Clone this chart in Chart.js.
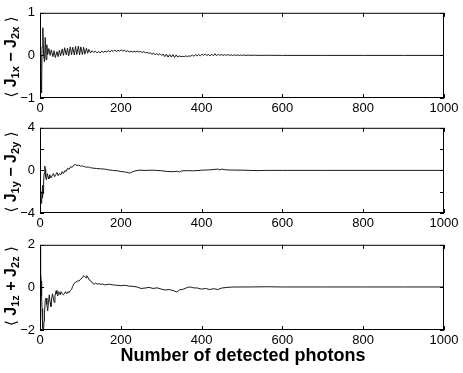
<!DOCTYPE html>
<html><head><meta charset="utf-8">
<script src="https://cdn.jsdelivr.net/npm/chart.js@4"></script>
<style>
body{margin:0;background:#fff;width:463px;height:373px;position:relative;overflow:hidden;font-family:'Liberation Sans',Arial,Helvetica,sans-serif;color:#000;}
canvas{position:absolute;left:0;}
.ylab{position:absolute;white-space:nowrap;font-weight:bold;font-size:16px;line-height:16px;transform:translate(-50%,-50%) rotate(-90deg);}
.ylab sub{font-size:11px;vertical-align:-3px;line-height:11px;}
.ylab .br{font-weight:normal;font-family:'DejaVu Sans',sans-serif;font-size:15px;}
.xt{position:absolute;left:243px;top:355px;transform:translate(-50%,-50%);font-weight:bold;font-size:18px;white-space:nowrap;}
</style></head>
<body>
<canvas id="c1" width="463" height="115" style="top:0px"></canvas>
<canvas id="c2" width="463" height="117" style="top:115px"></canvas>
<canvas id="c3" width="463" height="118" style="top:232px"></canvas>
<div class="ylab" style="left:12px;top:57px"><span class="br">⟨</span> J<sub>1x</sub> − J<sub>2x</sub> <span class="br">⟩</span></div>
<div class="ylab" style="left:12px;top:172px"><span class="br">⟨</span> J<sub>1y</sub> − J<sub>2y</sub> <span class="br">⟩</span></div>
<div class="ylab" style="left:12px;top:286px"><span class="br">⟨</span> J<sub>1z</sub> + J<sub>2z</sub> <span class="br">⟩</span></div>
<div class="xt">Number of detected photons</div>
<script>
// ---- data ----
const xTickValues = [0, 200, 400, 600, 800, 1000];
const yTicksTop = [-1, 0, 1];
const yLabelsTop = [-1, 0, 1];
const yTicksMid = [-4, -2, 0, 2, 4];
const yLabelsMid = [-4, 0, 4];
const yTicksBot = [-2, 0, 2];
const yLabelsBot = [-2, 0, 2];

const xTop = [0,2,4,5,7,9,11,13,15,17,19,22,25,28,32,35,38,42,45,48,51,55,58,61,65,68,71,75,78,81,85,88,91,95,98,101,105,108,111,115,118,121,125,
129,133,137,141,145,149,153,157,161,165,169,173,177,181,185,189,193,197,201,205,209,213,217,221,225,229,233,237,241,245,249,
253,257,261,265,269,273,277,281,285,289,293,297,301,305,309,313,317,321,325,329,333,337,341,345,349,353,357,361,365,369,373,377,381,385,389,393,397,
401,405,409,413,417,421,425,429,433,437,441,445,449,453,457,461,465,469,473,477,481,485,489,493,497,501,505,510,515,520,530,540,560,600,700,800,900,1000];
const yTop = [0,-0.3,-0.88,0.2,0.65,0.0,-0.15,0.42,-0.1,0.25,0.02,0.16,0.0,0.13,-0.03,0.11,-0.05,0.09,-0.03,0.12,-0.01,0.15,0.0,0.18,0.01,0.17,-0.01,0.2,0.01,0.19,0.01,0.21,0.02,0.22,0.01,0.2,0.02,0.19,0.03,0.17,0.05,0.14,0.06,
0.11,0.07,0.1,0.06,0.09,0.06,0.1,0.07,0.1,0.08,0.11,0.08,0.12,0.09,0.13,0.09,0.12,0.1,0.13,0.1,0.12,0.09,0.11,0.08,0.1,0.08,0.1,0.08,0.1,0.08,0.09,
0.07,0.09,0.06,0.07,0.05,0.06,0.03,0.05,0.02,0.04,0.01,0.04,0.0,0.03,-0.03,0.03,-0.04,0.02,-0.04,0.02,-0.05,0.01,-0.04,-0.01,-0.03,-0.02,-0.03,-0.01,-0.03,-0.01,-0.02,0.01,-0.02,0.02,-0.01,0.02,-0.01,
0.03,0.0,0.03,0.0,0.02,-0.01,0.03,-0.01,0.04,-0.01,0.03,0.0,0.02,0.0,0.02,0.0,0.02,0.0,0.015,-0.005,0.015,0.0,0.01,0.0,0.01,0.0,0.01,0.0,0.008,0.0,0.005,0.0,0.003,0.0,0.0,0.0,0.0,0.0];

const xMid = [0,1,2,4,5,6,7,8,9,10,12,13,14,16,18,20,22,24,27,30,33,36,39,42,45,48,52,55,58,62,65,68,72,76,80,84,88,92,96,100,105,110,115,120,125,130,140,150,160,170,180,190,200,210,215,222,228,235,245,260,280,300,315,330,340,345,350,365,380,400,420,440,445,450,460,480,500,520,540,560,600,700,1000];
const yMid = [-2.0,-1.6,-2.4,-3.1,-2.0,-2.6,-1.4,-2.2,-1.0,-0.3,0.4,0.1,-0.6,-0.9,-0.3,-0.6,-0.8,-0.4,-0.7,-0.5,-0.3,-0.6,-0.4,-0.2,-0.5,-0.3,-0.4,-0.1,-0.3,0.0,-0.1,0.2,0.1,0.35,0.3,0.5,0.55,0.45,0.5,0.4,0.42,0.35,0.3,0.32,0.25,0.22,0.18,0.15,0.12,0.05,0.0,-0.03,-0.1,-0.15,-0.18,-0.25,-0.15,-0.05,0.02,0.0,0.02,-0.03,-0.1,-0.12,-0.08,-0.15,-0.05,-0.02,-0.04,0.02,0.05,0.12,0.06,0.12,0.05,0.03,0.02,0.0,-0.02,0.0,0.0,0.0,0.0];

const xBot = [0,1,2,3,4,5,6,7,8,9,10,11,13,15,17,19,21,23,25,27,29,31,33,35,37,40,42,44,46,48,50,52,55,58,60,63,66,69,72,75,78,81,85,89,93,97,101,105,108,111,114,116,119,122,126,130,134,138,142,146,150,155,160,170,180,190,200,210,220,230,240,250,260,270,280,290,300,310,320,330,339,345,355,365,372,380,390,400,410,420,430,440,450,463,480,520,560,600,700,800,900,1000];
const yBot = [1.9,1.3,0.7,0.3,-0.4,-1.0,-1.5,-1.9,-2.0,-1.9,-1.6,-1.2,-0.6,-0.5,-0.8,-1.1,-0.7,-0.35,-0.7,-0.9,-0.5,-0.3,-0.5,-0.7,-0.4,-0.15,-0.3,-0.4,-0.2,-0.25,-0.35,-0.2,-0.3,-0.35,-0.3,-0.2,-0.3,-0.2,-0.25,-0.15,-0.1,0.05,0.2,0.25,0.3,0.3,0.4,0.45,0.55,0.5,0.45,0.55,0.45,0.35,0.3,0.2,0.15,0.2,0.15,0.18,0.14,0.16,0.12,0.15,0.12,0.1,0.08,0.1,0.06,0.05,0.02,-0.05,-0.03,0.0,-0.05,-0.02,-0.08,-0.12,-0.1,-0.15,-0.22,-0.12,-0.08,0.0,0.02,-0.02,-0.03,-0.08,-0.05,-0.1,-0.06,-0.1,-0.03,0.0,0.02,0.02,0.03,0.02,0.02,0.02,0.02,0.02];

// ---- drawing ----
const FONT = "'Liberation Sans', Arial, Helvetica, sans-serif";
const fmt = v => v < 0 ? '\u2212' + Math.abs(v) : String(v);

const boxTicks = {
  id: 'boxTicks',
  afterDraw(chart) {
    const {ctx, chartArea: a, scales: {x, y}} = chart;
    ctx.save();
    ctx.strokeStyle = '#000';
    ctx.lineWidth = 1;
    ctx.strokeRect(a.left + 0.5, a.top + 0.5, a.right - a.left - 1, a.bottom - a.top - 1);
    ctx.beginPath();
    x.ticks.forEach(t => {
      const p = Math.round(x.getPixelForValue(t.value)) + 0.5;
      ctx.moveTo(p, a.bottom); ctx.lineTo(p, a.bottom - 4);
      ctx.moveTo(p, a.top); ctx.lineTo(p, a.top + 4);
    });
    y.ticks.forEach(t => {
      const p = Math.round(y.getPixelForValue(t.value)) + 0.5;
      ctx.moveTo(a.left, p); ctx.lineTo(a.left + 4, p);
      ctx.moveTo(a.right, p); ctx.lineTo(a.right - 4, p);
    });
    ctx.stroke();
    ctx.restore();
  }
};

function panel(id, xs, ys, ymin, ymax, yTicks, yLabels, xH) {
  const data = xs.map((xv, i) => ({x: xv, y: ys[i]}));
  return new Chart(document.getElementById(id), {
    type: 'line',
    data: {datasets: [{data, borderColor: '#1a1a1a', borderWidth: 1, pointRadius: 0, tension: 0, fill: false}]},
    options: {
      responsive: false, animation: false, devicePixelRatio: 1,
      layout: {padding: {left: 0, right: 19, top: 11, bottom: 0}},
      plugins: {legend: {display: false}, tooltip: {enabled: false}},
      scales: {
        x: {
          type: 'linear', min: 0, max: 1000,
          grid: {display: false, drawTicks: false}, border: {display: false},
          afterBuildTicks: s => { s.ticks = xTickValues.map(v => ({value: v})); },
          ticks: {color: '#000', font: {family: FONT, size: 13}, padding: 3, maxRotation: 0, autoSkip: false,
                  callback: v => fmt(v)},
          afterFit: s => { s.height = xH; }
        },
        y: {
          min: ymin, max: ymax,
          grid: {display: false, drawTicks: false}, border: {display: false},
          afterBuildTicks: s => { s.ticks = yTicks.map(v => ({value: v})); },
          ticks: {color: '#000', font: {family: FONT, size: 13}, padding: 5, autoSkip: false,
                  callback: v => yLabels.includes(v) ? fmt(v) : ''},
          afterFit: s => { s.width = 40; }
        }
      }
    },
    plugins: [boxTicks]
  });
}

panel('c1', xTop, yTop, -1, 1, yTicksTop, yLabelsTop, 17);
panel('c2', xMid, yMid, -4, 4, yTicksMid, yLabelsMid, 19);
panel('c3', xBot, yBot, -2, 2, yTicksBot, yLabelsBot, 20);
</script>
</body></html>
